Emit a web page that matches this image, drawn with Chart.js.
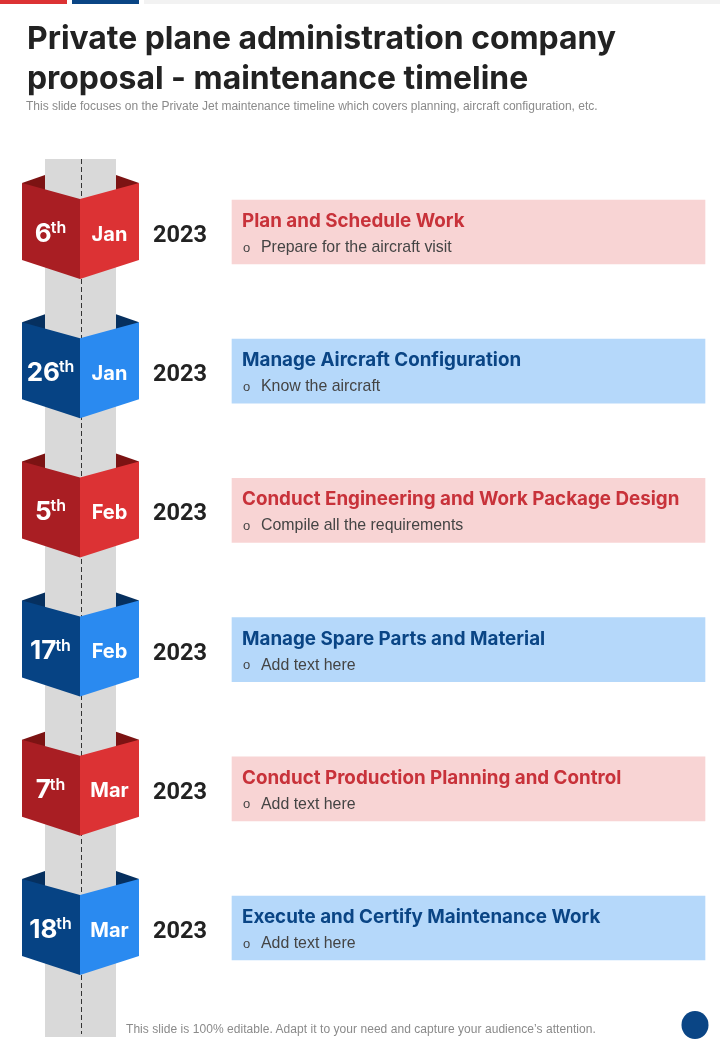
<!DOCTYPE html>
<html><head><meta charset="utf-8">
<style>
html,body{margin:0;padding:0;background:#fff;width:720px;height:1040px;overflow:hidden}
#wrap{position:relative;width:720px;height:1040px}
canvas{position:absolute;left:0;top:0}
h1{position:absolute;left:27px;top:18px;margin:0;font:700 31.9px/40px Inter,sans-serif;color:#222;letter-spacing:0;white-space:nowrap}
#sub,#foot{position:absolute;font:12px/14px "Liberation Sans",sans-serif;color:#8a8a8a;white-space:nowrap}
#sub{left:26px;top:99px}
#foot{left:126px;top:1022px;letter-spacing:.05px}
</style>
</head><body><div id="wrap">
<canvas id="c" width="720" height="1040"></canvas>
<h1>Private plane administration company<br>proposal - maintenance timeline</h1>
<div id="sub">This slide focuses on the Private Jet maintenance timeline which covers planning, aircraft configuration, etc.</div>
<div id="foot">This slide is 100% editable. Adapt it to your need and capture your audience’s attention.</div>
</div>
<script src="https://cdn.jsdelivr.net/npm/chart.js@4"></script>
<script>
const days = ["6","26","5","17","7","18"];
const suffix = ["th","th","th","th","th","th"];
const months = ["Jan","Jan","Feb","Feb","Mar","Mar"];
const years = ["2023","2023","2023","2023","2023","2023"];
const titles = ["Plan and Schedule Work","Manage Aircraft Configuration","Conduct Engineering and Work Package Design","Manage Spare Parts and Material","Conduct Production Planning and Control","Execute and Certify Maintenance Work"];
const details = ["Prepare for the aircraft visit","Know the aircraft","Compile all the requirements","Add text here","Add text here","Add text here"];

const red = {flap:"#7c1313",left:"#a91e23",right:"#dc3234",card:"#f8d4d4",title:"#c8323a"};
const blue = {flap:"#06305f",left:"#064384",right:"#2a8af0",card:"#b5d8fa",title:"#0a4585"};
const tone = i => i % 2 ? blue : red;
const CARD = {left:232,right:705};
const BOX = {l:22,c:80,r:139,tl:45,tr:116,flap:-57,top:-49,notch:-33,side:28,bot:47};

const slide = {
  id:"slide",
  beforeDatasetsDraw(ch){
    const {ctx,scales:{x,y}} = ch;
    const px = v => x.getPixelForValue(v);
    ctx.save();
    ctx.fillStyle=red.right; ctx.fillRect(0,0,67,4);
    ctx.fillStyle=blue.title; ctx.fillRect(72,0,67,4);
    ctx.fillStyle="#f2f2f2"; ctx.fillRect(144,0,576,4);
    titles.forEach((_,i)=>{
      const c=y.getPixelForValue(i), t=tone(i);
      ctx.fillStyle=t.flap;
      poly(ctx,[[px(BOX.l),c+BOX.top],[px(BOX.tl),c+BOX.flap],[px(BOX.tl),c+BOX.notch+5]]);
      poly(ctx,[[px(BOX.r),c+BOX.top],[px(BOX.tr),c+BOX.flap],[px(BOX.tr),c+BOX.notch+5]]);
    });
    const top=y.getPixelForValue(0)-73, bottom=1037;
    ctx.fillStyle="#d9d9d9";
    ctx.fillRect(px(BOX.tl),top,px(BOX.tr)-px(BOX.tl),bottom-top);
    ctx.strokeStyle="#333"; ctx.lineWidth=1; ctx.setLineDash([5,3]);
    ctx.beginPath(); ctx.moveTo(px(81.5),top); ctx.lineTo(px(81.5),bottom-3); ctx.stroke();
    ctx.setLineDash([]);
    titles.forEach((_,i)=>{
      const c=y.getPixelForValue(i), t=tone(i);
      ctx.fillStyle=t.left;
      poly(ctx,[[px(BOX.l),c+BOX.top],[px(BOX.c),c+BOX.notch],[px(BOX.c),c+BOX.bot],[px(BOX.l),c+BOX.side]]);
      ctx.fillStyle=t.right;
      poly(ctx,[[px(BOX.r),c+BOX.top],[px(BOX.c),c+BOX.notch],[px(BOX.c),c+BOX.bot],[px(BOX.r),c+BOX.side]]);
    });
    ctx.fillStyle=blue.title;
    ctx.beginPath(); ctx.ellipse(695,1025,13.5,14,0,0,Math.PI*2); ctx.fill();
    ctx.restore();
  },
  afterDatasetsDraw(ch){
    const {ctx,scales:{x,y}} = ch;
    ctx.save();
    ctx.textBaseline="alphabetic";
    titles.forEach((title,i)=>{
      const c=y.getPixelForValue(i), t=tone(i);
      ctx.fillStyle="#fff";
      ctx.font="700 26px Inter,sans-serif";
      const dw=ctx.measureText(days[i]).width;
      ctx.font="600 16px Inter,sans-serif";
      const sw=ctx.measureText(suffix[i]).width;
      const sx=x.getPixelForValue(50.5)-(dw+sw-1)/2;
      ctx.textAlign="left";
      ctx.font="700 26px Inter,sans-serif";
      ctx.fillText(days[i],sx,c+9.5);
      ctx.font="600 16px Inter,sans-serif";
      ctx.fillText(suffix[i],sx+dw-1,c+1);
      ctx.font="700 20px Inter,sans-serif";
      ctx.textAlign="center";
      ctx.fillText(months[i],x.getPixelForValue(109.5),c+8.5);
      ctx.fillStyle="#222";
      ctx.font="700 23.5px Roboto,sans-serif";
      ctx.fillText(years[i],x.getPixelForValue(180),c+10);
      ctx.textAlign="left";
      ctx.fillStyle=t.title;
      ctx.font="700 18.8px Inter,sans-serif";
      ctx.fillText(title,x.getPixelForValue(242),c-5);
      ctx.fillStyle="#444";
      ctx.font="13px 'Liberation Sans',sans-serif";
      ctx.fillText("o",x.getPixelForValue(243),c+19.5);
      ctx.font="15.9px 'Liberation Sans',sans-serif";
      ctx.fillText(details[i],x.getPixelForValue(261),c+20);
    });
    ctx.restore();
  }
};
function poly(ctx,pts){
  ctx.beginPath();
  pts.forEach((p,i)=> i?ctx.lineTo(p[0],p[1]):ctx.moveTo(p[0],p[1]));
  ctx.closePath(); ctx.fill();
}
new Chart(document.getElementById("c"),{
  type:"bar",
  data:{
    labels:titles,
    datasets:[{
      data:titles.map(()=>[CARD.left,CARD.right]),
      backgroundColor:titles.map((_,i)=>tone(i).card),
      barThickness:64,
      borderWidth:0
    }]
  },
  options:{
    indexAxis:"y",
    responsive:false,
    devicePixelRatio:1,
    animation:false,
    layout:{padding:{top:162.4,bottom:42.4,left:0,right:0}},
    plugins:{legend:{display:false},tooltip:{enabled:false},title:{display:false}},
    scales:{
      x:{type:"linear",min:0,max:720,display:false},
      y:{type:"category",display:false,offset:true}
    }
  },
  plugins:[slide]
});
</script>
</body></html>
